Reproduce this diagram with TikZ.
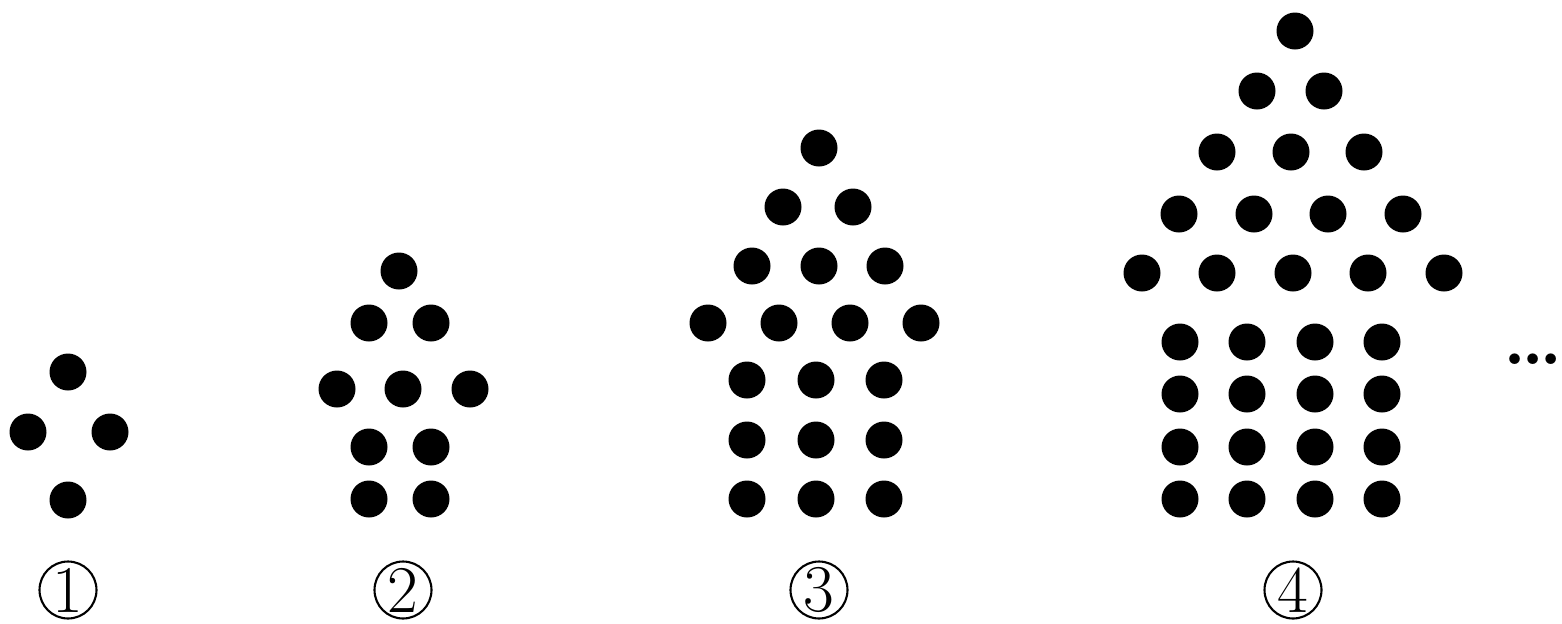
\documentclass[tikz,border=0pt]{standalone}
\usetikzlibrary{positioning}

\begin{document}
\begin{tikzpicture}[
  x=0.02cm, y=-0.02cm,
  num/.style={draw, circle, line width=1.2pt, inner sep=0pt, minimum size=1.14cm,
              font=\fontsize{38}{38}\selectfont}
 ]
\useasboundingbox (0,0) rectangle (1562,623);
% figure 1
\foreach \x/\y in {68/372, 28/432, 110/432, 68/500}
  \fill (\x,\y) circle (18.5);
% figure 2
\foreach \x/\y in {399/271, 369/323, 431/323, 337/389, 403/389,
    470/389, 369/447, 431/447, 369/499, 431/499}
  \fill (\x,\y) circle (18.5);
% figure 3
\foreach \x/\y in {819/148, 783/207, 853/207, 752/266, 819/266,
    885/266, 708/323, 779/323, 850/323, 921/323}
  \fill (\x,\y) circle (18.5);
\foreach \y in {380, 440, 499}
  \foreach \x in {747, 816, 884}
    \fill (\x,\y) circle (18.5);
% figure 4
\foreach \x/\y in {1295/31, 1257/91, 1324/91, 1217/152, 1291/152,
    1364/152, 1179/214, 1254/214, 1328/214, 1403/214, 1142/273, 1217/273,
    1293/273, 1368/273, 1444/273}
  \fill (\x,\y) circle (18.5);
\foreach \y in {342, 394, 447, 499}
  \foreach \x in {1180, 1247, 1315, 1382}
    \fill (\x,\y) circle (18.5);
% labels
\node[num] (n1) at (68,590)   {1};
\node[num] (n2) at (403,590)  {2};
\node[num] (n3) at (819,590)  {3};
\node[num] (n4) at (1293,590) {4};
\node[font=\fontsize{42}{42}\selectfont\bfseries, inner sep=0pt] (more) at (1533,359) {\ldots};
\end{tikzpicture}
\end{document}
